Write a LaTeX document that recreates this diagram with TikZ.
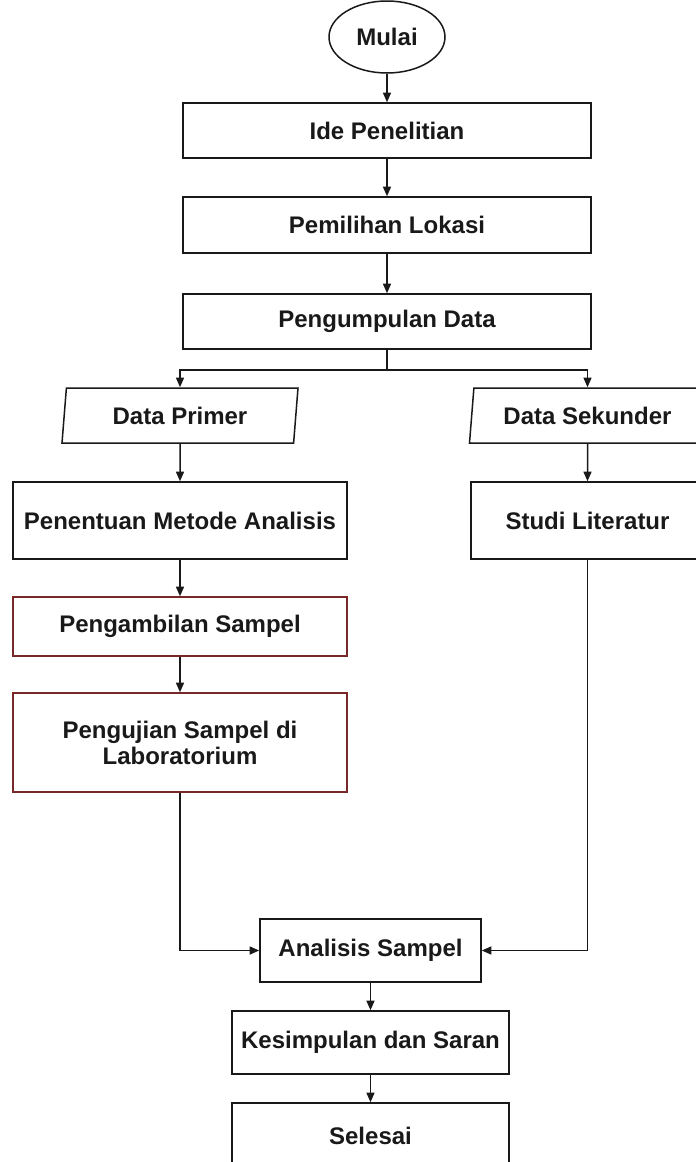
\documentclass[tikz,border=0pt]{standalone}
\usepackage{fontspec}
\setmainfont{Liberation Sans}
\usetikzlibrary{shapes.geometric,arrows.meta}

\definecolor{ink}{RGB}{25,25,25}
\definecolor{boxred}{RGB}{120,40,40}

\begin{document}
\begin{tikzpicture}[x=0.5pt, y=-0.5pt, line width=0.75pt, color=ink,
  every node/.style={font=\fontsize{12}{13}\selectfont\bfseries},
  proses/.style={draw, rectangle, inner sep=0pt, align=center},
  dataio/.style={draw, trapezium, trapezium left angle=76, trapezium right angle=104,
    trapezium stretches body, minimum width=118pt, minimum height=27.5pt, inner sep=0pt},
  panah/.style={-{Triangle[length=4.8pt,width=4pt]}}]

% Page size
\useasboundingbox (0,0) rectangle (696,1162);
\clip (0,0) rectangle (696,1162);

% Alur atas
\node[ellipse, draw, minimum width=58pt, minimum height=36pt, inner sep=0pt] (mulai) at (387,37) {Mulai};
\node[proses, minimum width=204pt, minimum height=27.5pt] (ide) at (387,130.5) {Ide Penelitian};
\node[proses, minimum width=204pt, minimum height=28pt] (lokasi) at (387,225) {Pemilihan Lokasi};
\node[proses, minimum width=204pt, minimum height=27.5pt] (kumpul) at (387,321.5) {Pengumpulan Data};

% Cabang data primer dan sekunder
\node[dataio] (primer) at (180,415.5) {Data Primer};
\node[dataio] (sekunder) at (587.5,415.5) {Data Sekunder};

\node[proses, minimum width=167pt, minimum height=38.5pt] (metode) at (180,520.5) {Penentuan Metode Analisis};
\node[proses, minimum width=116.5pt, minimum height=38.5pt] (studi) at (587.5,520.5) {Studi Literatur};
\node[proses, draw=boxred, minimum width=167pt, minimum height=29.5pt] (ambil) at (180,626.5) {Pengambilan Sampel};
\node[proses, draw=boxred, minimum width=167pt, minimum height=49.5pt] (uji) at (180,742.5) {Pengujian Sampel di\\Laboratorium};

% Alur bawah
\node[proses, minimum width=110.5pt, minimum height=31.5pt] (analisis) at (370.5,950.5) {Analisis Sampel};
\node[proses, minimum width=138.5pt, minimum height=31.5pt] (simpul) at (370.5,1042.5) {Kesimpulan dan Saran};
\node[proses, minimum width=138.5pt, minimum height=33pt] (selesai) at (370.5,1136) {Selesai};

% Panah
\draw[panah] (mulai) -- (ide);
\draw[panah] (ide) -- (lokasi);
\draw[panah] (lokasi) -- (kumpul);
\draw (kumpul.south) -- ++(0,20) coordinate (cabang);
\draw[panah] (cabang) -| (primer.north);
\draw[panah] (cabang) -| (sekunder.north);
\draw[panah] (primer) -- (metode);
\draw[panah] (sekunder) -- (studi);
\draw[panah] (metode) -- (ambil);
\draw[panah] (ambil) -- (uji);
\draw[panah] (uji.south) |- (analisis.west);
\draw[panah] (studi.south) |- (analisis.east);
\draw[panah] (analisis) -- (simpul);
\draw[panah] (simpul) -- (selesai);
\end{tikzpicture}
\end{document}
